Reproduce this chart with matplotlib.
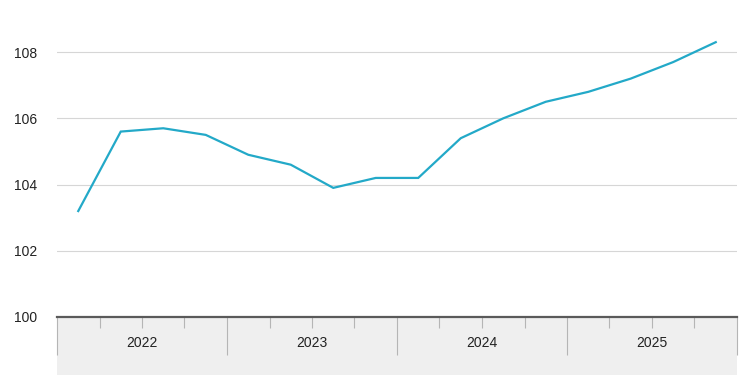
import matplotlib
matplotlib.use("Agg")
import matplotlib.pyplot as plt
from matplotlib.patches import Rectangle
from matplotlib.ticker import FixedLocator, FixedFormatter

plt.rcParams['font.family'] = ['Liberation Sans', 'DejaVu Sans']

years = ["2022", "2023", "2024", "2025"]
quarters_per_year = 4
values = [103.2, 105.6, 105.7, 105.5,
          104.9, 104.6, 103.9, 104.2,
          104.2, 105.4, 106.0, 106.5,
          106.8, 107.2, 107.7, 108.3]
yticks = [100, 102, 104, 106, 108]

n = len(values)
x = [i + 0.5 for i in range(n)]

fig = plt.figure(figsize=(7.5, 3.75), dpi=100)
ax = fig.add_axes([57/750, (375-317)/375, 680/750, 298/375])

ax.set_xlim(0, n)
ax.set_ylim(100, 109)

ax.plot(x, values, color='#23a9c8', lw=1.6, solid_joinstyle='miter', zorder=3)

# grid
ax.set_yticks(yticks)
ax.yaxis.grid(True, color='#d6d6d6', lw=0.8)
ax.set_axisbelow(True)
ax.tick_params(axis='y', length=0, pad=14, labelsize=10, labelcolor='#222222')

for s in ['top', 'right', 'left']:
    ax.spines[s].set_visible(False)
ax.spines['bottom'].set_color('#5a5a5a')
ax.spines['bottom'].set_linewidth(1.6)
ax.spines['bottom'].set_zorder(4)

# x ticks: year boundaries (major), quarter boundaries (minor), labels at mid-year
major = list(range(0, n + 1, quarters_per_year))
minor = [q for q in range(n + 1) if q % quarters_per_year != 0]
ax.xaxis.set_major_locator(FixedLocator(major))
ax.xaxis.set_major_formatter(FixedFormatter([""] * len(major)))
ax.xaxis.set_minor_locator(FixedLocator(minor))
minor_labels = []
for q in minor:
    if q % quarters_per_year == 2:
        minor_labels.append(years[q // quarters_per_year])
    else:
        minor_labels.append("")
ax.xaxis.set_minor_formatter(FixedFormatter(minor_labels))
ax.tick_params(axis='x', which='major', length=27, width=0.8, color='#b5b5b5', direction='out')
ax.tick_params(axis='x', which='minor', length=8, width=0.8, color='#b5b5b5', direction='out',
               pad=6, labelsize=10, labelcolor='#222222')

# grey band under the axis
band = Rectangle((0, -0.25), 1, 0.25, transform=ax.transAxes, facecolor='#efefef',
                 edgecolor='none', clip_on=False, zorder=0)
ax.add_patch(band)

fig.savefig("out.png", dpi=100)
